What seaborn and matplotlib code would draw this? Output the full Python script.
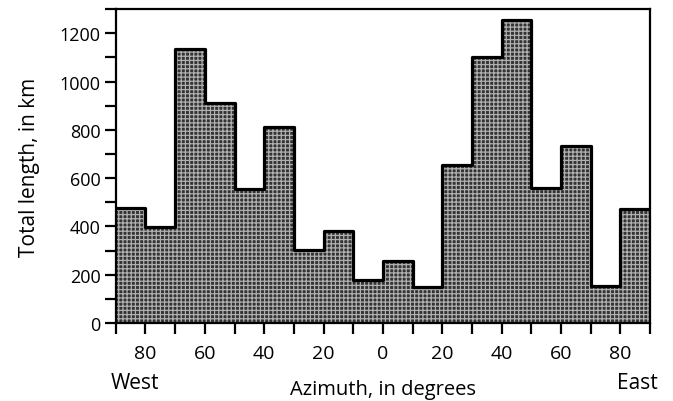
import numpy as np
import pandas as pd
import matplotlib
matplotlib.use("Agg")
import matplotlib.pyplot as plt
import seaborn as sns

# ==== DATA ====
bin_edges = [-90, -80, -70, -60, -50, -40, -30, -20, -10, 0,
             10, 20, 30, 40, 50, 60, 70, 80, 90]
total_length = [477, 396, 1134, 913, 554, 812, 301, 379, 178,
                258, 149, 655, 1103, 1255, 560, 731, 152, 472]
tick_pos = [-80, -60, -40, -20, 0, 20, 40, 60, 80]
tick_labels = ["80", "60", "40", "20", "0", "20", "40", "60", "80"]

centers = [(a + b) / 2 for a, b in zip(bin_edges[:-1], bin_edges[1:])]
df = pd.DataFrame({"azimuth": centers, "length": total_length})

# ==== STYLE ====
sns.set_style("ticks")
plt.rcParams["font.family"] = ["Open Sans", "DejaVu Sans"]
plt.rcParams["hatch.linewidth"] = 0.9
plt.rcParams["text.color"] = "black"
plt.rcParams["axes.labelcolor"] = "black"
plt.rcParams["xtick.color"] = "black"
plt.rcParams["ytick.color"] = "black"

fig = plt.figure(figsize=(6.73, 4.02), dpi=100)
ax = fig.add_axes([0.172, 0.194, 0.794, 0.781])

# filled, stippled area
sns.histplot(data=df, x="azimuth", weights="length", bins=bin_edges,
             element="step", fill=True, ax=ax, linewidth=0,
             facecolor="#333333", edgecolor="#b0b0b0", alpha=1, hatch="++++")
# outline
sns.histplot(data=df, x="azimuth", weights="length", bins=bin_edges,
             element="step", fill=False, ax=ax, color="black", linewidth=2.3)

ax.set_xlim(-90, 90)
ax.set_ylim(0, 1300)
ax.set_xticks(bin_edges, minor=True)
ax.set_xticks(tick_pos)
ax.set_xticklabels(tick_labels)
ax.set_yticks(range(0, 1201, 200))
ax.set_yticks(range(0, 1301, 100), minor=True)
ax.tick_params(axis="both", which="both", direction="out", length=8,
               width=1.6, color="black")
ax.tick_params(axis="x", pad=7, labelsize=14)
ax.tick_params(axis="y", pad=3, labelsize=13)

for s in ax.spines.values():
    s.set_linewidth(1.6)
    s.set_color("black")

ax.set_xlabel("Azimuth, in degrees", fontsize=14.5, labelpad=12)
ax.set_ylabel("Total length, in km", fontsize=15, labelpad=14)
ax.text(-0.01, -0.155, "West", transform=ax.transAxes, fontsize=15,
        ha="left", va="top")
ax.text(1.015, -0.155, "East", transform=ax.transAxes, fontsize=15,
        ha="right", va="top")

fig.savefig("out.png", dpi=100)
